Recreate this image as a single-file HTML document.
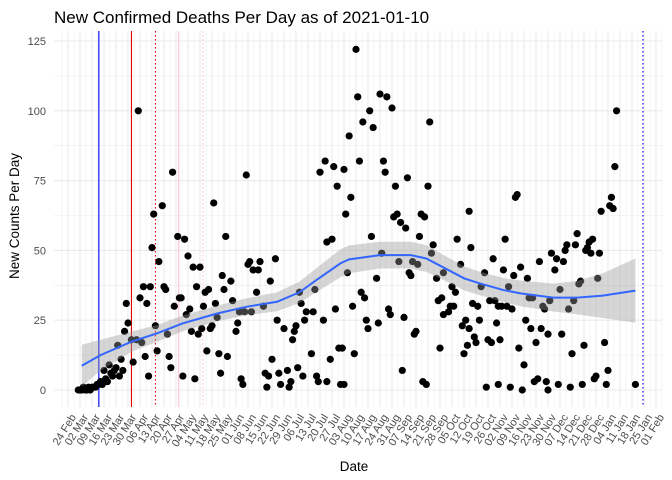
<!DOCTYPE html>
<html><head><meta charset="utf-8"><style>
body{margin:0;background:#fff}
svg{display:block;font-family:"Liberation Sans",Arial,sans-serif}
</style></head><body>
<svg id="chart" width="672" height="480">
<text x="54" y="23" font-size="17" fill="#000">New Confirmed Deaths Per Day as of 2021-01-10</text>
<text transform="translate(19,216) rotate(-90)" text-anchor="middle" font-size="13.5" fill="#000">New Counts Per Day</text>
<text x="354" y="471" text-anchor="middle" font-size="13.5" fill="#000">Date</text>
<g id="grid"></g>
<g id="vlines"></g>
<g id="points"></g>
<g id="smooth"></g>
<g id="yticks"></g>
<g id="xticks"></g>
</svg>
<script>
// day offsets from 2020-02-24
const pointDays=[6,7,8,9,10,11,12,13,14,15,16,17,18,19,20,22,23,25,26,28,
35,34,41,42,44,46,48,49,50,55,53,56,57,61,62,64,65,68,70,73,75,77,80,82,85,86,90,92,95,91,104,105,
38,45,47,52,59,60,67,74,81,88,93,89,101,102,98,99,
51,58,69,71,72,76,78,79,83,84,87,96,100,103,66,31,29,33,37,40,43,32,30,27,24,21,
106,108,111,112,121,118,110,114,122,107,119,115,117,116,123,124,128,130,129,126,133,132,131,134,137,136,135,139,143,138,144,142,145,146,149,151,153,156,158,159,147,150,155,157,151,154,
168,169,182,186,176,189,172,178,164,211,170,184,185,161,165,162,198,191,210,190,192,194,197,206,208,177,205,213,227,234,235,183,212,193,201,204,163,180,199,200,215,219,229,224,226,171,173,166,187,188,174,175,181,196,216,218,219,222,223,225,230,232,234,237,238,233,231,202,203,217,160,167,195,207,209,161,
320,319,317,316,318,311,261,262,255,248,254,264,260,268,243,241,257,275,284,282,285,289,290,291,296,297,302,303,305,304,306,310,309,298,299,287,295,292,281,277,278,269,271,246,249,251,253,256,259,236,239,240,250,267,270,276,280,288,273,245,247,252,263,266,301,313,294,315,307,308,314,331,
244,251,258,265,272,274,279,280,286,293,300];
const pointVals=[0,0,0,1,0,0,1,0,1,1,1,2,2,3,2,4,3,6,5,8,
24,31,100,33,37,31,37,51,63,66,46,37,36,78,30,55,33,54,48,44,37,44,35,36,67,31,41,55,39,36,77,45,
10,12,5,14,12,8,5,4,14,13,12,6,4,2,21,24,
23,20,27,29,21,20,22,30,22,23,26,32,28,28,33,11,16,21,18,18,17,7,5,7,9,7,
46,43,43,46,47,39,35,30,25,28,11,6,5,1,6,2,7,3,1,22,23,21,18,8,5,31,35,28,28,25,36,13,5,3,25,3,11,29,15,2,78,82,80,73,53,54,
122,105,106,105,100,101,96,94,91,96,82,82,78,79,69,63,76,73,73,62,63,60,58,63,62,55,55,52,54,64,51,49,49,46,46,45,42,40,42,41,40,42,45,37,35,35,33,30,29,27,25,22,24,26,32,33,27,28,30,30,23,25,22,19,17,16,13,20,21,15,15,13,7,3,2,2,
100,80,69,66,65,64,69,70,54,47,43,44,41,40,42,37,37,46,43,49,47,46,50,52,52,56,50,51,49,53,54,49,40,38,39,36,32,29,32,30,29,33,33,32,32,30,30,30,29,31,30,25,24,25,22,22,20,20,17,18,17,18,15,9,16,17,13,7,4,5,2,2,
1,2,1,0,3,4,3,0,2,1,2];
const smoothDays=[8,19,37,52,67,87,104,122,135,145,159,164,182,200,209,219,231,240,254,264,283,297,312,331];
const smoothVals=[8.7,12.5,17.3,20.3,23.9,27.4,29.8,31.6,35,39.4,45.4,46.8,48.3,48.3,47.1,43.9,40,38.2,35.8,34.6,33.1,33.1,33.8,35.6];
const smoothHalf=[7.5,5.5,3.6,3,2.8,2.8,3,3.4,3.8,4.3,5,5,4.8,4.8,4.8,4.5,4.3,4.2,4.3,4.6,5,6,8,11.5];
const refDays=[18,37,51,64.6,78.7,335.4];
const refColors=["#0000ff","#dd0000","#dd0000","#ffc0cb","#ffc0cb","#0000ff"];
const refDash=["","","1.5,2.5","","1.5,2.5","1.5,2.5"];
const yTicks=[0,25,50,75,100,125];
const xTickLabels=["24 Feb","02 Mar","09 Mar","16 Mar","23 Mar","30 Mar","06 Apr","13 Apr","20 Apr","27 Apr","04 May","11 May","18 May","25 May","01 Jun","08 Jun","15 Jun","22 Jun","29 Jun","06 Jul","13 Jul","20 Jul","27 Jul","03 Aug","10 Aug","17 Aug","24 Aug","31 Aug","07 Sep","14 Sep","21 Sep","28 Sep","05 Oct","12 Oct","19 Oct","26 Oct","02 Nov","09 Nov","16 Nov","23 Nov","30 Nov","07 Dec","14 Dec","21 Dec","28 Dec","04 Jan","11 Jan","18 Jan","25 Jan","01 Feb"];

const NS="http://www.w3.org/2000/svg";
const X=d=>68+d*12/7;
const Y=v=>390-v*2.792;
const L=54,R=662,T=31,B=407;
function mk(tag,attrs,parent){const e=document.createElementNS(NS,tag);for(const k in attrs)e.setAttribute(k,attrs[k]);parent.appendChild(e);return e;}
const grid=document.getElementById('grid');
for(let v=-12.5;v<=125;v+=12.5){const y=Y(v);if(y>B||y<T)continue;const major=(v%25===0);
 const l=mk('line',{x1:L,x2:R,y1:y,y2:y,stroke:'#ebebeb','stroke-width':major?1.1:0.55},grid);
 
 }
for(let i=-1;i<=100;i++){const x=X(i*3.5);if(x<L||x>R)continue;const major=i%2===0;
 const l=mk('line',{x1:x,x2:x,y1:T,y2:B,stroke:'#ebebeb','stroke-width':major?1.1:0.55},grid);
 
 }
const vl=document.getElementById('vlines');
refDays.forEach((d,i)=>{const a={x1:X(d),x2:X(d),y1:T,y2:B,stroke:refColors[i],'stroke-width':1.1};if(refDash[i])a['stroke-dasharray']=refDash[i];
 const l=mk('line',a,vl);
 
 });
const pg=document.getElementById('points');
pointDays.forEach((d,i)=>{const c=mk('circle',{cx:X(d),cy:Y(pointVals[i]),r:3.6,fill:'#000'},pg);
 
 });
const sg=document.getElementById('smooth');
let up=smoothDays.map((d,i)=>X(d)+','+Y(smoothVals[i]+smoothHalf[i]));
let lo=smoothDays.map((d,i)=>X(d)+','+Y(smoothVals[i]-smoothHalf[i])).reverse();
const band=mk('polygon',{points:up.concat(lo).join(' '),fill:'#999999','fill-opacity':0.4},sg);


const line=mk('polyline',{points:smoothDays.map((d,i)=>X(d)+','+Y(smoothVals[i])).join(' '),fill:'none',stroke:'#3366ff','stroke-width':2},sg);


const yt=document.getElementById('yticks');
yTicks.forEach(v=>{const t=mk('text',{x:46,y:Y(v)+4,'text-anchor':'end','font-size':11,fill:'#4d4d4d'},yt);t.textContent=v;
 
 });
const xt=document.getElementById('xticks');
xTickLabels.forEach((s,i)=>{const x=X(i*7)+2,y=413;
 const t=mk('text',{transform:`translate(${x},${y}) rotate(-58)`,'text-anchor':'end','font-size':11,fill:'#4d4d4d',dy:'0.7em'},xt);t.textContent=s;
 
 });
</script>
</body></html>
